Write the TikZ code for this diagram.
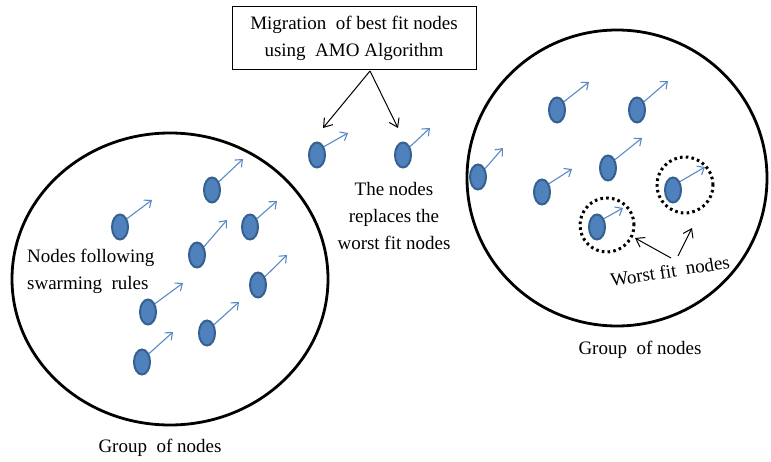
\documentclass[tikz,border=0pt]{standalone}
\usepackage{fontspec}
\setmainfont{Liberation Serif}
\usetikzlibrary{arrows.meta,shapes.geometric}
\definecolor{nodefill}{HTML}{4F81BD}
\definecolor{nodeline}{HTML}{35608F}
\definecolor{arrblue}{HTML}{5A8AC6}
\tikzset{
  swell/.style={ellipse,draw=nodeline,fill=nodefill,line width=2pt,minimum width=16pt,minimum height=25pt,inner sep=0pt},
  swarr/.style={draw=arrblue,line width=1.1pt,-{Straight Barb[length=6pt,width=10pt]}},
  group/.style={draw=black,line width=2.8pt},
  worst/.style={draw=black,line width=3pt,dash pattern=on 2.6pt off 3.2pt},
  blackarr/.style={draw=black,line width=1pt,-{Straight Barb[length=8pt,width=11pt]}},
  lbl/.style={font=\fontsize{19}{27}\selectfont,align=center,inner sep=0pt},
}
\newcommand\swnode[3]{%
  \node[swell] (#1) at (#2) {};
  \coordinate (#1t) at (#3);
  \draw[swarr] (#1.50) -- (#1t);}
\begin{document}
\begin{tikzpicture}[x=1pt,y=-1pt]
\useasboundingbox (0,0) rectangle (771,462);
% group circles
\node[group,ellipse,minimum width=316pt,minimum height=292pt,inner sep=0pt] (gl) at (170,279) {};
\node[group,ellipse,minimum width=300pt,minimum height=296pt,inner sep=0pt] (gr) at (617,178) {};
% top box
\node[draw=black,line width=1pt,minimum width=244pt,minimum height=63pt,lbl] (box) at (354,38.5) {Migration\ \ of best fit\ nodes\\using\ \ AMO Algorithm};
\coordinate (bx) at (370,71);
% left group nodes
\swnode{L1}{120,227}{152,200}
\swnode{L2}{212,190}{243,159}
\swnode{L3}{197,255}{227,220}
\swnode{L4}{250,227}{277,201}
\swnode{L5}{258,285}{287,255}
\swnode{L6}{148,312}{183,283}
\swnode{L7}{207,333}{239,302}
\swnode{L8}{142,362}{173,332}
% migrating nodes
\swnode{M1}{317,155}{348,133}
\swnode{M2}{403,155}{430,128}
% right group nodes
\swnode{R1}{557,110}{589,82}
\swnode{R2}{637,110}{668,81}
\swnode{R3}{478,177}{503,148}
\swnode{R4}{542,192}{572,169}
\swnode{R5}{608,168}{642,138}
\swnode{R6}{673,190}{705,167}
\swnode{R7}{597,227}{623,208}
% worst fit rings
\node[worst,circle,minimum size=56pt,inner sep=0pt] (w1) at (685,185) {};
\node[worst,circle,minimum size=54pt,inner sep=0pt] (w2) at (607,225) {};
% arrows from box
\coordinate (m1a) at (323,128);
\coordinate (m2a) at (398,128);
\draw[blackarr] (bx) -- (m1a);
\draw[blackarr] (bx) -- (m2a);
% labels
\node[lbl,align=left,anchor=west] (swl) at (27,271) {Nodes following\\swarming\ \ rules};
\node[lbl] (rep) at (394,216) {The\ nodes\\replaces\ the\\worst fit\ nodes};
\node[lbl] (gll) at (160,448) {Group\ \ of nodes};
\node[lbl] (grl) at (640,350) {Group\ \ of nodes};
\node[lbl,rotate=9] (wl) at (670,271) {Worst\ fit\ \ nodes};
% worst-fit arrows
\coordinate (wa1) at (671,258);
\coordinate (wa2) at (678,256);
\coordinate (wt1) at (635,238);
\coordinate (wt2) at (692,228);
\draw[blackarr] (wa1) -- (wt1);
\draw[blackarr] (wa2) -- (wt2);
\end{tikzpicture}
\end{document}
